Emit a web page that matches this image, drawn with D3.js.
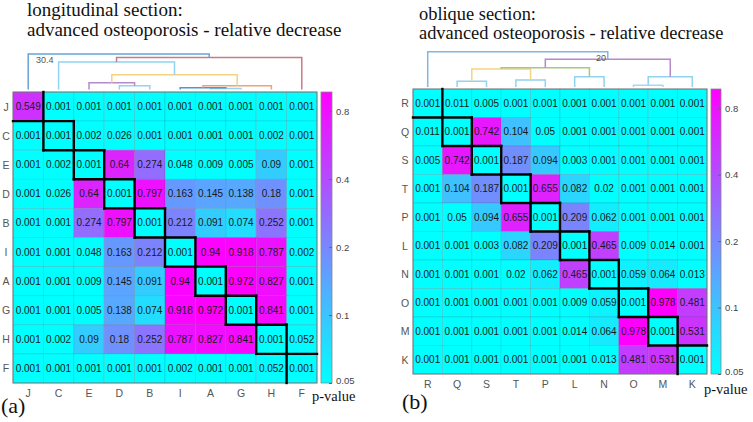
<!DOCTYPE html>
<html>
<head>
    <meta charset="utf-8">
    <title>p-value matrices</title>
    <script src="https://d3js.org/d3.v7.min.js"></script>
    <style>
        body { margin: 0; background: #fff; }
        svg { display: block; }
        .cell-text { font-family: "Liberation Sans", Arial, sans-serif; font-size: 10px; fill: #1a1a1a; }
        .lab { font-family: "Liberation Sans", Arial, sans-serif; font-size: 10.5px; fill: #555; }
        .serif { font-family: "Liberation Serif", "Times New Roman", "DejaVu Serif", serif; fill: #111; }
        .cbar text { font-family: "Liberation Sans", Arial, sans-serif; font-size: 9.5px; fill: #444; }
    </style>
</head>
<body>
<svg id="chart" width="753" height="422"></svg>

<script>
  // ---- data: longitudinal section ----
  const leftLabels = ["J", "C", "E", "D", "B", "I", "A", "G", "H", "F"];
  const leftP = [
    [0.549, 0.001, 0.001, 0.001, 0.001, 0.001, 0.001, 0.001, 0.001, 0.001],
    [0.001, 0.001, 0.002, 0.026, 0.001, 0.001, 0.001, 0.001, 0.002, 0.001],
    [0.001, 0.002, 0.001, 0.64, 0.274, 0.048, 0.009, 0.005, 0.09, 0.001],
    [0.001, 0.026, 0.64, 0.001, 0.797, 0.163, 0.145, 0.138, 0.18, 0.001],
    [0.001, 0.001, 0.274, 0.797, 0.001, 0.212, 0.091, 0.074, 0.252, 0.001],
    [0.001, 0.001, 0.048, 0.163, 0.212, 0.001, 0.94, 0.918, 0.787, 0.002],
    [0.001, 0.001, 0.009, 0.145, 0.091, 0.94, 0.001, 0.972, 0.827, 0.001],
    [0.001, 0.001, 0.005, 0.138, 0.074, 0.918, 0.972, 0.001, 0.841, 0.001],
    [0.001, 0.002, 0.09, 0.18, 0.252, 0.787, 0.827, 0.841, 0.001, 0.052],
    [0.001, 0.001, 0.001, 0.001, 0.001, 0.002, 0.001, 0.001, 0.052, 0.001]
  ];
  // merges: [child a, child b, height, colour]; leaves 0..9, new nodes 10..
  const leftMerges = [
    [6, 7, 0.9, "#92d2f2"],
    [5, 10, 1.5, "#4f96dc"],
    [3, 4, 3.3, "#92d2f2"],
    [11, 8, 3.3, "#f0a273"],
    [2, 12, 5.8, "#b888cc"],
    [14, 13, 12.7, "#f6d37e"],
    [1, 15, 23.5, "#92d2f2"],
    [16, 9, 27.4, "#c97a86"],
    [0, 17, 30.4, "#66a4d8"]
  ];
  const leftTop = "30.4";

  // ---- data: oblique section ----
  const rightLabels = ["R", "Q", "S", "T", "P", "L", "N", "O", "M", "K"];
  const rightP = [
    [0.001, 0.011, 0.005, 0.001, 0.001, 0.001, 0.001, 0.001, 0.001, 0.001],
    [0.011, 0.001, 0.742, 0.104, 0.05, 0.001, 0.001, 0.001, 0.001, 0.001],
    [0.005, 0.742, 0.001, 0.187, 0.094, 0.003, 0.001, 0.001, 0.001, 0.001],
    [0.001, 0.104, 0.187, 0.001, 0.655, 0.082, 0.02, 0.001, 0.001, 0.001],
    [0.001, 0.05, 0.094, 0.655, 0.001, 0.209, 0.062, 0.001, 0.001, 0.001],
    [0.001, 0.001, 0.003, 0.082, 0.209, 0.001, 0.465, 0.009, 0.014, 0.001],
    [0.001, 0.001, 0.001, 0.02, 0.062, 0.465, 0.001, 0.059, 0.064, 0.013],
    [0.001, 0.001, 0.001, 0.001, 0.001, 0.009, 0.059, 0.001, 0.978, 0.481],
    [0.001, 0.001, 0.001, 0.001, 0.001, 0.014, 0.064, 0.978, 0.001, 0.531],
    [0.001, 0.001, 0.001, 0.001, 0.001, 0.001, 0.013, 0.481, 0.531, 0.001]
  ];
  const rightMerges = [
    [7, 8, 1.0, "#a6d8f2"],
    [1, 2, 3.2, "#92d2f2"],
    [3, 4, 4.0, "#92d2f2"],
    [5, 6, 5.8, "#92d2f2"],
    [10, 9, 5.8, "#92d2f2"],
    [11, 12, 10.2, "#f6d37e"],
    [15, 13, 10.9, "#a9c87c"],
    [16, 14, 15.7, "#b888cc"],
    [0, 17, 20, "#7db9e4"]
  ];
  const rightTop = "20";

  const cbTicks = [0.05, 0.1, 0.2, 0.4, 0.8];

  const svg = d3.select("#chart");

  // cool colormap: cyan -> magenta
  const cool = d3.interpolateRgb("#00ffff", "#ff00ff");

  function drawPanel(cfg) {
    const g = svg.append("g");
    const n = cfg.labels.length;
    const maxP = d3.max(cfg.p.flat());
    const color = d3.scaleSequentialLog(cool).domain([0.05, maxP]).clamp(true);

    const x = d3.scaleBand().domain(d3.range(n)).range([cfg.x0, cfg.x1]);
    const y = d3.scaleBand().domain(d3.range(n)).range([cfg.y0, cfg.y1]);

    // titles
    g.append("text").attr("class", "serif").attr("x", cfg.tx).attr("y", cfg.ty1)
      .style("font-size", cfg.tsize + "px").text(cfg.title1);
    g.append("text").attr("class", "serif").attr("x", cfg.tx).attr("y", cfg.ty2)
      .style("font-size", cfg.tsize + "px").text("advanced osteoporosis - relative decrease");

    // cells
    const cells = [];
    cfg.p.forEach((row, i) => row.forEach((v, j) => cells.push({i, j, v})));
    g.selectAll("rect.cell").data(cells).enter().append("rect")
      .attr("class", "cell")
      .attr("x", d => x(d.j)).attr("y", d => y(d.i))
      .attr("width", x.bandwidth()).attr("height", y.bandwidth())
      .attr("fill", d => color(d.v))
      .attr("stroke", "rgba(60,60,90,0.18)").attr("stroke-width", 0.8);
    g.selectAll("text.cell-text").data(cells).enter().append("text")
      .attr("class", "cell-text")
      .attr("x", d => x(d.j) + x.bandwidth() / 2)
      .attr("y", d => y(d.i) + y.bandwidth() / 2 + 3.5)
      .attr("text-anchor", "middle")
      .text(d => d.v);

    g.append("rect").attr("x", cfg.x0).attr("y", cfg.y0)
      .attr("width", cfg.x1 - cfg.x0).attr("height", cfg.y1 - cfg.y0)
      .attr("fill", "none").attr("stroke", "#777").attr("stroke-width", 1);

    // staircase around diagonal cells
    const segs = [];
    for (let k = 0; k < n; k++) {
      const l = x(k), r = x(k) + x.bandwidth(), t = y(k), b = y(k) + y.bandwidth();
      if (k > 0) { segs.push([l, t, r, t]); segs.push([l, t, l, b]); }
      if (k < n - 1) { segs.push([l, b, r, b]); segs.push([r, t, r, b]); }
    }
    g.selectAll("line.stair").data(segs).enter().append("line")
      .attr("x1", d => d[0]).attr("y1", d => d[1]).attr("x2", d => d[2]).attr("y2", d => d[3])
      .attr("stroke", "#000").attr("stroke-width", 2.4).attr("stroke-linecap", "square");

    // axis labels
    g.selectAll("text.rowlab").data(cfg.labels).enter().append("text")
      .attr("class", "lab").attr("text-anchor", "middle")
      .attr("x", cfg.rowLabX).attr("y", (d, i) => y(i) + y.bandwidth() / 2 + 4)
      .text(d => d);
    g.selectAll("text.collab").data(cfg.labels).enter().append("text")
      .attr("class", "lab").attr("text-anchor", "middle")
      .attr("x", (d, i) => x(i) + x.bandwidth() / 2).attr("y", cfg.colLabY)
      .text(d => d);

    // dendrogram
    const h = d3.scaleLinear().domain([0, cfg.merges[n - 2][2]]).range([cfg.dBase, cfg.dTop]);
    const nx = d3.range(n).map(i => x(i) + x.bandwidth() / 2);
    const nh = d3.range(n).map(() => 0);
    cfg.merges.forEach(([a, b, ht, c]) => {
      const p = d3.path();
      p.moveTo(nx[a], h(nh[a]));
      p.lineTo(nx[a], h(ht));
      p.lineTo(nx[b], h(ht));
      p.lineTo(nx[b], h(nh[b]));
      g.append("path").attr("d", p.toString()).attr("fill", "none")
        .attr("stroke", c).attr("stroke-width", 1.5);
      nx.push((nx[a] + nx[b]) / 2);
      nh.push(ht);
    });
    g.append("text").attr("class", "lab").style("font-size", "9px")
      .attr("x", cfg.topLabX).attr("y", h(cfg.merges[n - 2][2]) + 9)
      .text(cfg.topLabel);

    // colour bar
    const gradId = "grad" + cfg.id;
    const grad = svg.append("defs").append("linearGradient").attr("id", gradId)
      .attr("x1", 0).attr("y1", 1).attr("x2", 0).attr("y2", 0);
    d3.range(0, 1.0001, 0.1).forEach(t => {
      grad.append("stop").attr("offset", t).attr("stop-color", cool(t));
    });
    g.append("rect").attr("x", cfg.cbx).attr("y", cfg.y0)
      .attr("width", cfg.cbw).attr("height", cfg.y1 - cfg.y0)
      .attr("fill", `url(#${gradId})`).attr("stroke", "#888").attr("stroke-width", 0.8);
    const cbScale = d3.scaleLog().domain([0.05, maxP]).range([cfg.y1, cfg.y0]);
    g.append("g").attr("class", "cbar")
      .attr("transform", `translate(${cfg.cbx + cfg.cbw},0)`)
      .call(d3.axisRight(cbScale).tickValues(cbTicks).tickFormat(d => d)
        .tickSizeInner(-3).tickSizeOuter(0).tickPadding(4))
      .call(a => a.select(".domain").remove())
      .call(a => a.selectAll("line").attr("stroke", "#666"))
      .call(a => a.selectAll(".tick").filter(d => d === 0.05).select("text").attr("dy", "0.1em"));

    g.append("text").attr("class", "serif").attr("x", cfg.pvx).attr("y", cfg.pvy)
      .style("font-size", "14.5px").text("p-value");
    g.append("text").attr("class", "serif").attr("x", cfg.px).attr("y", cfg.py)
      .style("font-size", "22px").text(cfg.panel);
  }

  drawPanel({
    id: "a", labels: leftLabels, p: leftP, merges: leftMerges, topLabel: leftTop,
    title1: "longitudinal section:", tx: 27, ty1: 16, ty2: 36, tsize: 19,
    x0: 13, x1: 317, y0: 92, y1: 383, rowLabX: 6, colLabY: 397,
    dBase: 89.5, dTop: 54, topLabX: 36,
    cbx: 321, cbw: 11, pvx: 312, pvy: 401, panel: "(a)", px: 1, py: 413
  });

  drawPanel({
    id: "b", labels: rightLabels, p: rightP, merges: rightMerges, topLabel: rightTop,
    title1: "oblique section:", tx: 419, ty1: 20, ty2: 39, tsize: 18.4,
    x0: 413, x1: 707, y0: 89, y1: 374, rowLabX: 405, colLabY: 388,
    dBase: 87, dTop: 51.7, topLabX: 596,
    cbx: 711, cbw: 10, pvx: 704, pvy: 394, panel: "(b)", px: 402, py: 409
  });
</script>
</body>
</html>
